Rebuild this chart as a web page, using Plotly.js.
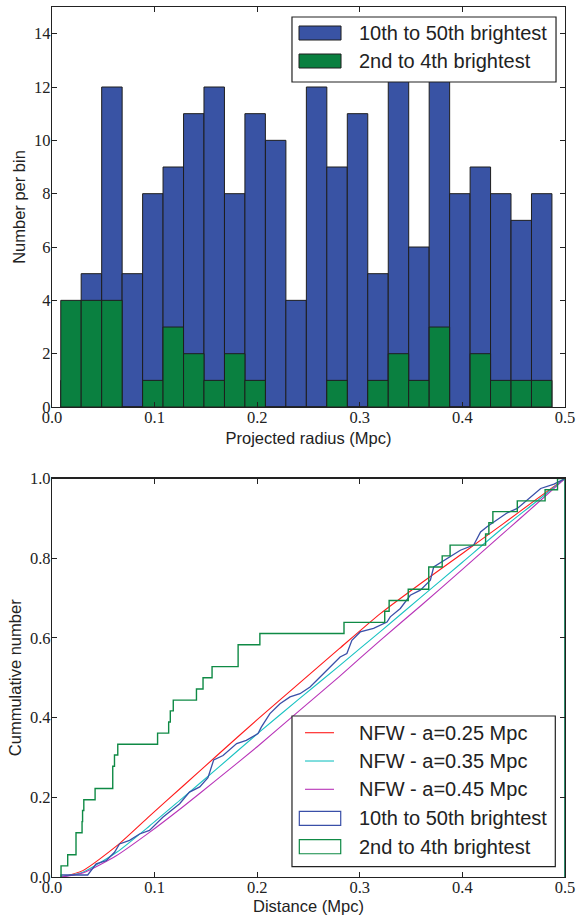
<!DOCTYPE html>
<html>
<head>
<meta charset="utf-8">
<script src="https://cdn.plot.ly/plotly-3.0.1.min.js"></script>
<style>
  html, body { margin: 0; padding: 0; background: #ffffff; }
  #chart { width: 577px; height: 915px; }
</style>
</head>
<body>
<div id="chart"></div>
<script>
// ---------- Top panel: histogram of projected radius ----------
const binCenters = [0.0185, 0.0384, 0.0584, 0.0783, 0.0983, 0.1182, 0.1382, 0.1581,
  0.1781, 0.1980, 0.2180, 0.2379, 0.2579, 0.2778, 0.2978, 0.3177, 0.3377, 0.3576,
  0.3776, 0.3975, 0.4175, 0.4374, 0.4574, 0.4773];
const binWidth = 0.01995;
const faintCounts  = [1, 5, 12, 5, 8, 9, 11, 12, 8, 11, 10, 4, 12, 9, 11, 5, 13, 6, 13, 8, 9, 8, 7, 8];
const brightCounts = [4, 4, 4, 0, 1, 3, 2, 1, 2, 1, 0, 0, 0, 1, 0, 1, 2, 1, 3, 0, 2, 1, 1, 1];

// ---------- Bottom panel: cumulative distributions ----------
const nfwX     = [0.009, 0.03, 0.063, 0.095, 0.128, 0.16, 0.2, 0.24, 0.28, 0.32, 0.36, 0.4, 0.44, 0.47, 0.5];
const nfw025Y  = [0, 0.016, 0.078, 0.153, 0.229, 0.303, 0.395, 0.484, 0.573, 0.661, 0.738, 0.812, 0.887, 0.944, 1.0];
const nfw035Y  = [0, 0.012, 0.062, 0.128, 0.200, 0.270, 0.359, 0.445, 0.530, 0.616, 0.703, 0.790, 0.877, 0.938, 1.0];
const nfw045Y  = [0, 0.010, 0.054, 0.112, 0.177, 0.243, 0.327, 0.415, 0.503, 0.594, 0.682, 0.772, 0.863, 0.931, 1.0];

const faintCumX = [0.0088, 0.0088, 0.0348, 0.043, 0.0528, 0.0609, 0.0658, 0.0756, 0.0853, 0.095,
  0.108, 0.1244, 0.134, 0.144, 0.152, 0.1576, 0.1667, 0.18, 0.1894, 0.2008, 0.204, 0.209,
  0.2124, 0.2222, 0.232, 0.2417, 0.2515, 0.2613, 0.271, 0.2808, 0.2874, 0.2923, 0.3004, 0.3134,
  0.3265, 0.3297, 0.3395, 0.3492, 0.359, 0.3688, 0.372, 0.385, 0.398, 0.411, 0.4177, 0.424,
  0.434, 0.4437, 0.4535, 0.4665, 0.4763, 0.4893, 0.4975, 0.5, 0.5];
const faintCumY = [0, 0.005, 0.005, 0.033, 0.041, 0.062, 0.083, 0.092, 0.108, 0.117,
  0.150, 0.184, 0.213, 0.226, 0.249, 0.294, 0.305, 0.335, 0.343, 0.360, 0.376, 0.395,
  0.410, 0.435, 0.452, 0.460, 0.477, 0.502, 0.527, 0.552, 0.561, 0.594, 0.615, 0.624,
  0.640, 0.653, 0.674, 0.707, 0.720, 0.745, 0.778, 0.800, 0.820, 0.833, 0.866, 0.879,
  0.896, 0.914, 0.925, 0.954, 0.975, 0.986, 0.996, 1.0, 0];

const brightCumX = [0.0088, 0.0088, 0.0153, 0.0234, 0.0293, 0.0298, 0.0310, 0.0420, 0.0592,
  0.0609, 0.0641, 0.1029, 0.1137, 0.1153, 0.1182, 0.1408, 0.1472, 0.1560, 0.1814, 0.2026,
  0.2846, 0.3243, 0.3286, 0.3472, 0.3672, 0.3803, 0.3880, 0.4226, 0.4258, 0.4297, 0.4535,
  0.4806, 0.4927, 0.5, 0.5];
const brightCumY = [0, 0.028, 0.056, 0.111, 0.139, 0.167, 0.194, 0.222, 0.278,
  0.306, 0.333, 0.361, 0.389, 0.417, 0.444, 0.472, 0.500, 0.528, 0.583, 0.611,
  0.639, 0.667, 0.694, 0.722, 0.778, 0.806, 0.833, 0.861, 0.889, 0.917, 0.944,
  0.972, 1.0, 1.0, 0];

const histNames = ['10th to 50th brightest', '2nd to 4th brightest'];
const nfwNames = ['NFW - a=0.25 Mpc', 'NFW - a=0.35 Mpc', 'NFW - a=0.45 Mpc'];

// ---------- styles ----------
const BLUE_FILL = '#3953a4';
const GREEN_FILL = '#0a8040';
const BLUE_LINE = '#3a4fa8';
const GREEN_LINE = '#0f8a45';
const NFW_COLORS = ['#ff1a1a', '#19c2c2', '#b833b8'];
const AX = '#222222';
const TICKFONT = {family: 'Liberation Serif, DejaVu Serif, serif', size: 16.5, color: AX};
const TITLEFONT = {family: 'Liberation Sans, Arial, sans-serif', size: 16.5, color: AX};
const LEGFONT = {family: 'Liberation Sans, Arial, sans-serif', size: 20, color: AX};

const traces = [
  {type: 'bar', x: binCenters, y: faintCounts, width: binWidth, name: histNames[0],
   marker: {color: BLUE_FILL, line: {color: '#1e1e1e', width: 1}}, xaxis: 'x', yaxis: 'y', showlegend: false},
  {type: 'bar', x: binCenters, y: brightCounts, width: binWidth, name: histNames[1],
   marker: {color: GREEN_FILL, line: {color: '#1e1e1e', width: 1}}, xaxis: 'x', yaxis: 'y', showlegend: false},
  {type: 'scatter', mode: 'lines', x: nfwX, y: nfw025Y, name: nfwNames[0],
   line: {color: NFW_COLORS[0], width: 1.1, shape: 'spline', smoothing: 0.6}, xaxis: 'x2', yaxis: 'y2', showlegend: false},
  {type: 'scatter', mode: 'lines', x: nfwX, y: nfw035Y, name: nfwNames[1],
   line: {color: NFW_COLORS[1], width: 1.1, shape: 'spline', smoothing: 0.6}, xaxis: 'x2', yaxis: 'y2', showlegend: false},
  {type: 'scatter', mode: 'lines', x: nfwX, y: nfw045Y, name: nfwNames[2],
   line: {color: NFW_COLORS[2], width: 1.1, shape: 'spline', smoothing: 0.6}, xaxis: 'x2', yaxis: 'y2', showlegend: false},
  {type: 'scatter', mode: 'lines', x: faintCumX, y: faintCumY, name: histNames[0],
   line: {color: BLUE_LINE, width: 1.3, shape: 'linear'}, xaxis: 'x2', yaxis: 'y2', showlegend: false},
  {type: 'scatter', mode: 'lines', x: brightCumX, y: brightCumY, name: histNames[1],
   line: {color: GREEN_LINE, width: 1.4, shape: 'hv'}, xaxis: 'x2', yaxis: 'y2', showlegend: false}
];

function axisBase(extra) {
  return Object.assign({
    showgrid: false, zeroline: false, showline: true, mirror: 'ticks',
    linecolor: AX, linewidth: 1.2, ticks: 'inside', ticklen: 5, tickwidth: 1, tickcolor: AX,
    tickfont: TICKFONT, automargin: false
  }, extra);
}

// ---------- custom legends (shapes + annotations in axis-domain coordinates) ----------
const shapes = [];
const annotations = [];
// top legend
shapes.push({type: 'rect', xref: 'x domain', yref: 'y domain', x0: 0.4678, x1: 0.9825, y0: 0.8125, y1: 0.975,
  line: {color: AX, width: 1.2}, fillcolor: '#ffffff', layer: 'above'});
const topRowsY = [0.935, 0.865];
const topFills = [BLUE_FILL, GREEN_FILL];
for (let i = 0; i < 2; i++) {
  shapes.push({type: 'rect', xref: 'x domain', yref: 'y domain', x0: 0.4815, x1: 0.5634,
    y0: topRowsY[i] - 0.0175, y1: topRowsY[i] + 0.0175, line: {color: '#1e1e1e', width: 1},
    fillcolor: topFills[i], layer: 'above'});
  annotations.push({xref: 'x domain', yref: 'y domain', x: 0.5945, y: topRowsY[i], text: histNames[i],
    showarrow: false, xanchor: 'left', yanchor: 'middle', font: LEGFONT});
}
// bottom legend
shapes.push({type: 'rect', xref: 'x2 domain', yref: 'y2 domain', x0: 0.4678, x1: 0.9811, y0: 0.0258, y1: 0.404,
  line: {color: AX, width: 1.2}, fillcolor: '#ffffff', layer: 'above'});
const botRowsY = [0.3621, 0.2911, 0.2201, 0.1473, 0.0760];
for (let i = 0; i < 3; i++) {
  shapes.push({type: 'line', xref: 'x2 domain', yref: 'y2 domain', x0: 0.4932, x1: 0.5497,
    y0: botRowsY[i], y1: botRowsY[i], line: {color: NFW_COLORS[i], width: 1.1}, layer: 'above'});
  annotations.push({xref: 'x2 domain', yref: 'y2 domain', x: 0.5951, y: botRowsY[i], text: nfwNames[i],
    showarrow: false, xanchor: 'left', yanchor: 'middle', font: LEGFONT});
}
const stepColors = [BLUE_LINE, GREEN_LINE];
for (let i = 0; i < 2; i++) {
  const yy = botRowsY[3 + i];
  shapes.push({type: 'rect', xref: 'x2 domain', yref: 'y2 domain', x0: 0.4821, x1: 0.5628,
    y0: yy - 0.0176, y1: yy + 0.0176, line: {color: stepColors[i], width: 1.2},
    fillcolor: 'rgba(0,0,0,0)', layer: 'above'});
  annotations.push({xref: 'x2 domain', yref: 'y2 domain', x: 0.5951, y: yy, text: histNames[i],
    showarrow: false, xanchor: 'left', yanchor: 'middle', font: LEGFONT});
}

const layout = {
  width: 577, height: 915,
  margin: {l: 52, r: 12, t: 7, b: 38, pad: 0},
  paper_bgcolor: '#ffffff', plot_bgcolor: '#ffffff',
  barmode: 'overlay', bargap: 0,
  showlegend: false,
  xaxis: axisBase({domain: [0, 1], range: [0, 0.5], anchor: 'y', tickvals: [0, 0.1, 0.2, 0.3, 0.4, 0.5],
    tickformat: '.1f', ticklabelstandoff: -5, title: {text: 'Projected radius (Mpc)', font: TITLEFONT, standoff: 6}}),
  yaxis: axisBase({domain: [0.5402, 1], range: [0, 15], anchor: 'x', tickvals: [0, 2, 4, 6, 8, 10, 12, 14],
    ticklabelstandoff: -3, title: {text: 'Number per bin', font: TITLEFONT, standoff: 4}}),
  xaxis2: axisBase({domain: [0, 1], range: [0, 0.5], anchor: 'y2', tickvals: [0, 0.1, 0.2, 0.3, 0.4, 0.5],
    tickformat: '.1f', ticklabelstandoff: -5, title: {text: 'Distance (Mpc)', font: TITLEFONT, standoff: 6}}),
  yaxis2: axisBase({domain: [0, 0.458], range: [0, 1], anchor: 'x2', tickvals: [0, 0.2, 0.4, 0.6, 0.8, 1.0],
    tickformat: '.1f', ticklabelstandoff: -3, title: {text: 'Cummulative number', font: TITLEFONT, standoff: 4}}),
  shapes: shapes,
  annotations: annotations
};

Plotly.newPlot('chart', traces, layout, {staticPlot: true, displayModeBar: false});
</script>
</body>
</html>
